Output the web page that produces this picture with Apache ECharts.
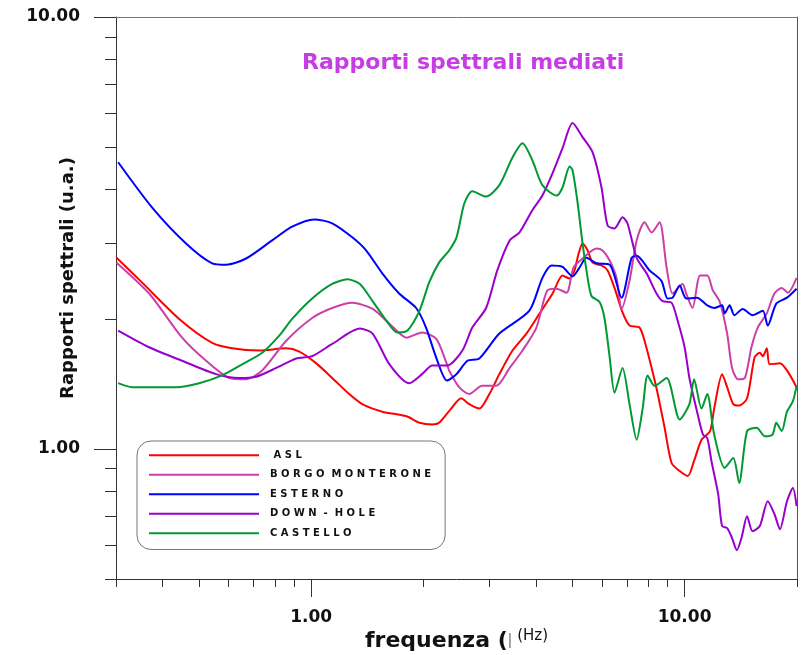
<!DOCTYPE html>
<html>
<head>
<meta charset="utf-8">
<script src="https://cdn.jsdelivr.net/npm/echarts@6/dist/echarts.min.js"></script>
<style>html,body{margin:0;padding:0;background:#fff}#c{width:801px;height:655px}</style>
</head>
<body>
<div id="c"></div>
<script>
// ---- data: [frequency (Hz), spectral ratio] ----
const aslData = [[0.301,2.77],[0.352,2.43],[0.443,2.00],[0.543,1.76],[0.614,1.71],[0.726,1.69],[0.857,1.71],[0.929,1.68],[1.03,1.58],[1.138,1.46],[1.264,1.34],[1.37,1.27],[1.55,1.22],[1.80,1.19],[1.95,1.15],[2.11,1.14],[2.20,1.15],[2.37,1.24],[2.52,1.31],[2.65,1.27],[2.82,1.24],[3.00,1.34],[3.19,1.49],[3.46,1.69],[3.77,1.85],[4.09,2.06],[4.43,2.29],[4.71,2.52],[4.92,2.48],[5.07,2.59],[5.20,2.83],[5.33,2.99],[5.50,2.88],[5.67,2.70],[5.99,2.66],[6.22,2.59],[6.49,2.36],[6.82,2.07],[7.12,1.93],[7.57,1.91],[7.81,1.78],[8.16,1.54],[8.46,1.35],[8.84,1.12],[9.23,0.928],[9.70,0.889],[10.2,0.866],[10.6,0.938],[11.1,1.05],[11.7,1.10],[12.0,1.24],[12.6,1.49],[13.0,1.39],[13.5,1.27],[14.0,1.26],[14.7,1.31],[15.4,1.63],[15.9,1.67],[16.2,1.64],[16.6,1.71],[16.9,1.57],[18.0,1.58],[18.8,1.52],[19.95,1.39]];
const borgoData = [[0.301,2.70],[0.368,2.29],[0.451,1.81],[0.523,1.60],[0.603,1.46],[0.669,1.45],[0.739,1.52],[0.857,1.78],[1.006,2.01],[1.138,2.12],[1.288,2.18],[1.46,2.11],[1.62,1.95],[1.80,1.81],[1.98,1.86],[2.16,1.80],[2.31,1.57],[2.34,1.52],[2.49,1.39],[2.65,1.34],[2.87,1.40],[3.13,1.40],[3.40,1.54],[3.68,1.69],[4.01,1.91],[4.29,2.33],[4.54,2.35],[4.83,2.30],[5.04,2.63],[5.33,2.76],[5.81,2.91],[6.03,2.88],[6.30,2.73],[6.57,2.49],[6.78,2.11],[7.12,2.45],[7.44,3.04],[7.81,3.35],[8.16,3.17],[8.57,3.35],[8.95,2.63],[9.29,2.29],[9.88,2.41],[10.1,2.29],[10.5,2.12],[11.0,2.52],[11.5,2.52],[11.9,2.33],[12.4,2.20],[13.0,1.85],[13.4,1.54],[13.9,1.45],[14.5,1.46],[15.1,1.72],[15.7,1.91],[16.6,2.06],[17.4,2.29],[18.2,2.36],[18.9,2.30],[19.95,2.49]];
const esternoData = [[0.304,4.61],[0.375,3.62],[0.462,2.99],[0.543,2.69],[0.592,2.67],[0.669,2.76],[0.786,3.04],[0.889,3.27],[1.019,3.40],[1.138,3.33],[1.288,3.09],[1.404,2.88],[1.55,2.55],[1.72,2.29],[1.91,2.12],[2.03,1.91],[2.16,1.63],[2.31,1.44],[2.45,1.49],[2.62,1.60],[2.82,1.62],[3.19,1.85],[3.84,2.09],[4.16,2.49],[4.40,2.66],[4.71,2.64],[5.01,2.51],[5.23,2.63],[5.46,2.77],[5.81,2.69],[6.30,2.67],[6.78,2.24],[7.21,2.77],[7.44,2.80],[8.06,2.59],[8.67,2.45],[9.00,2.23],[9.29,2.24],[9.70,2.39],[10.1,2.23],[10.8,2.24],[11.5,2.15],[12.0,2.12],[12.6,2.15],[12.8,2.06],[13.2,2.15],[13.6,2.04],[14.3,2.11],[15.2,2.04],[16.2,2.09],[16.7,1.93],[17.6,2.17],[18.8,2.24],[19.95,2.35]];
const downHoleData = [[0.304,1.88],[0.368,1.72],[0.451,1.60],[0.556,1.49],[0.641,1.46],[0.712,1.47],[0.806,1.54],[0.912,1.62],[1.006,1.64],[1.138,1.75],[1.35,1.90],[1.46,1.85],[1.62,1.57],[1.83,1.42],[1.98,1.49],[2.11,1.56],[2.31,1.56],[2.54,1.69],[2.70,1.91],[2.94,2.12],[3.15,2.59],[3.40,3.04],[3.61,3.17],[3.91,3.57],[4.16,3.86],[4.43,4.35],[4.71,4.97],[5.01,5.68],[5.33,5.27],[5.67,4.86],[5.99,4.03],[6.22,3.29],[6.49,3.24],[6.82,3.44],[7.03,3.33],[7.44,2.77],[7.91,2.55],[8.41,2.29],[8.73,2.20],[9.23,2.18],[9.58,1.98],[10.0,1.72],[10.3,1.46],[10.8,1.22],[11.2,1.08],[11.5,1.06],[11.8,0.938],[12.3,0.786],[12.6,0.663],[13.0,0.656],[13.4,0.622],[13.8,0.583],[14.2,0.622],[14.7,0.699],[15.2,0.645],[15.9,0.663],[16.7,0.757],[17.4,0.707],[18.0,0.652],[18.8,0.757],[19.5,0.812],[19.95,0.737]];
const castelloData = [[0.304,1.42],[0.331,1.39],[0.435,1.39],[0.501,1.42],[0.577,1.48],[0.653,1.57],[0.739,1.67],[0.821,1.83],[0.889,2.00],[1.006,2.23],[1.138,2.41],[1.25,2.47],[1.35,2.41],[1.46,2.20],[1.59,1.98],[1.70,1.86],[1.81,1.88],[1.95,2.09],[2.07,2.43],[2.20,2.70],[2.34,2.88],[2.45,3.09],[2.57,3.70],[2.70,3.95],[2.94,3.84],[3.19,4.08],[3.46,4.73],[3.68,5.10],[3.91,4.66],[4.16,4.08],[4.54,3.86],[4.71,4.03],[4.92,4.51],[5.01,4.42],[5.16,3.76],[5.33,2.99],[5.46,2.59],[5.63,2.26],[5.92,2.19],[6.10,2.01],[6.30,1.63],[6.49,1.35],[6.82,1.54],[7.12,1.27],[7.44,1.05],[7.72,1.24],[7.96,1.48],[8.31,1.40],[8.95,1.46],[9.70,1.17],[10.3,1.27],[10.6,1.45],[11.1,1.24],[11.5,1.34],[12.0,1.08],[12.8,0.904],[13.5,0.953],[14.0,0.834],[14.7,1.10],[15.6,1.12],[16.4,1.07],[17.2,1.08],[17.6,1.15],[18.2,1.10],[18.8,1.22],[19.5,1.29],[19.95,1.40]];

const seriesNames = ['ASL', 'BORGO MONTERONE', 'ESTERNO', 'DOWN - HOLE', 'CASTELLO'];
const seriesColors = ['#ff0000', '#cc3fa6', '#0000ff', '#9900cc', '#009933'];
const seriesData = [aslData, borgoData, esternoData, downHoleData, castelloData];

// ---- axis ticks ----
const xMinorTicks = [0.3, 0.4, 0.5, 0.6, 0.7, 0.8, 0.9, 2, 3, 4, 5, 6, 7, 8, 9, 20];
const xMajorTicks = [1, 10];
const yMinorTicks = [0.5, 0.6, 0.7, 0.8, 0.9, 2, 3, 4, 5, 6, 7, 8, 9];
const yMajorTicks = [1, 10];
const xMin = 0.3, xMax = 20, yMin = 0.5, yMax = 10;

const FONT = 'DejaVu Sans';
const chart = echarts.init(document.getElementById('c'), null, {renderer: 'canvas'});

function spaced(s) {
  return s.split(' ').map(function (w) { return w.split('').join(' '); }).join('  ');
}

const option = {
  backgroundColor: '#ffffff',
  animation: false,
  title: {
    text: 'Rapporti spettrali mediati',
    left: 297, top: 47,
    textStyle: {fontFamily: FONT, fontWeight: 'bold', fontSize: 22, color: '#c83ce6'}
  },
  grid: {left: 116, right: 4, top: 17, bottom: 76, containLabel: false, outerBoundsMode: 'none'},
  legend: {
    orient: 'vertical', left: 137, top: 441,
    padding: [8, 14, 10, 12],
    borderColor: '#777', borderWidth: 1, borderRadius: 14,
    itemWidth: 110, itemHeight: 2, itemGap: 7,
    icon: 'rect',
    data: seriesNames,
    formatter: function (n) { return (n === 'ASL' ? ' ' : '') + spaced(n); },
    textStyle: {fontFamily: FONT, fontWeight: 'bold', fontSize: 10, color: '#111', lineHeight: 12.5, padding: [0, 0, 0, 6]}
  },
  xAxis: [
    {type: 'log', min: xMin, max: xMax, position: 'bottom',
     axisLine: {show: true, lineStyle: {color: '#333', width: 1}},
     axisTick: {show: true, length: 8, customValues: xMinorTicks, lineStyle: {color: '#333'}},
     axisLabel: {show: false}, splitLine: {show: false}, minorTick: {show: false},
     name: '{a|frequenza (}{b|\u01C0}{c|(Hz)}', nameLocation: 'middle', nameGap: 50,
     nameTextStyle: {rich: {
       a: {fontFamily: FONT, fontWeight: 'bold', fontSize: 22, color: '#111'},
       b: {fontFamily: FONT, fontSize: 15, color: '#888', padding: [0, 5, 0, 0]},
       c: {fontFamily: FONT, fontSize: 15, color: '#111', verticalAlign: 'top', padding: [0, 0, 10, 0]}
     }}},
    {type: 'log', min: xMin, max: xMax, position: 'bottom',
     axisLine: {show: false},
     axisTick: {show: true, length: 18, customValues: xMajorTicks, lineStyle: {color: '#333'}},
     axisLabel: {show: true, customValues: xMajorTicks, margin: 30,
       formatter: function (v) { return Number(v).toFixed(2); },
       fontFamily: FONT, fontWeight: 'bold', fontSize: 17, color: '#111'},
     splitLine: {show: false}},
    {type: 'log', min: xMin, max: xMax, position: 'top',
     axisLine: {show: true, lineStyle: {color: '#777', width: 1}},
     axisTick: {show: false}, axisLabel: {show: false}, splitLine: {show: false}}
  ],
  yAxis: [
    {type: 'log', min: yMin, max: yMax, position: 'left',
     axisLine: {show: true, lineStyle: {color: '#333', width: 1}},
     axisTick: {show: true, length: 11, customValues: yMinorTicks, lineStyle: {color: '#333'}},
     axisLabel: {show: false}, splitLine: {show: false},
     name: 'Rapporti spettrali (u.a.)', nameLocation: 'middle', nameRotate: 90, nameGap: 39,
     nameTextStyle: {fontFamily: FONT, fontWeight: 'bold', fontSize: 18, color: '#111', padding: [0, 0, 0, 40]}},
    {type: 'log', min: yMin, max: yMax, position: 'left',
     axisLine: {show: false},
     axisTick: {show: true, length: 22, customValues: yMajorTicks, lineStyle: {color: '#333'}},
     axisLabel: {show: true, customValues: yMajorTicks, margin: 36,
       formatter: function (v) { return Number(v).toFixed(2); },
       fontFamily: FONT, fontWeight: 'bold', fontSize: 17, color: '#111'},
     splitLine: {show: false}},
    {type: 'log', min: yMin, max: yMax, position: 'right',
     axisLine: {show: true, lineStyle: {color: '#555', width: 1}},
     axisTick: {show: false}, axisLabel: {show: false}, splitLine: {show: false}}
  ],
  series: seriesNames.map(function (name, i) {
    return {
      name: name, type: 'line', xAxisIndex: 0, yAxisIndex: 0,
      data: seriesData[i], showSymbol: false, smooth: 0.25,
      lineStyle: {color: seriesColors[i], width: 2}, itemStyle: {color: seriesColors[i]},
      z: 2
    };
  })
};
chart.setOption(option);
</script>
</body>
</html>
